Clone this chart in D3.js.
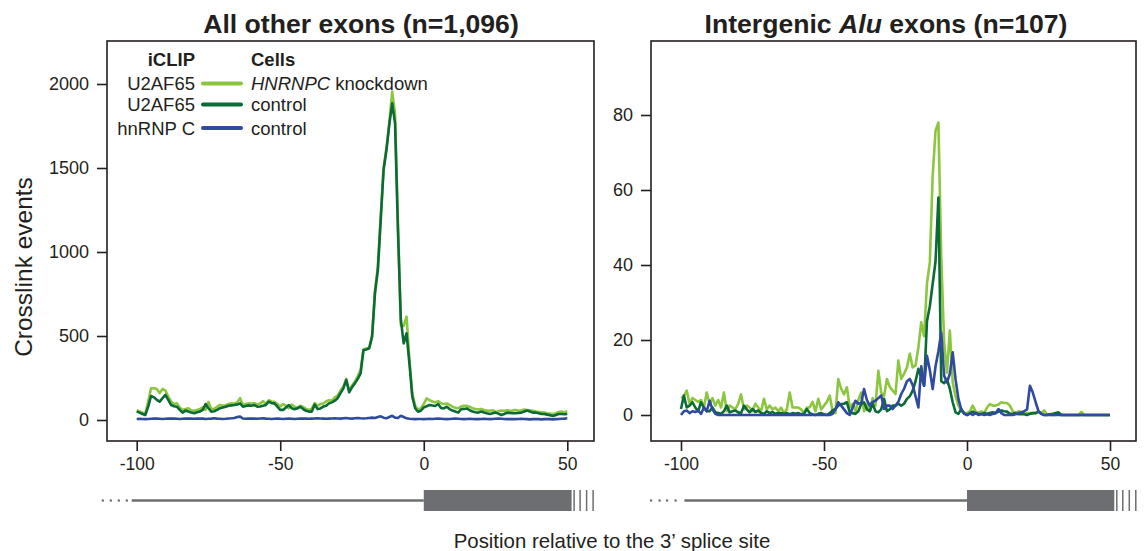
<!DOCTYPE html>
<html><head><meta charset="utf-8">
<script src="https://cdn.jsdelivr.net/npm/d3@7"></script>
<style>
body{margin:0;background:#fff}
svg{display:block}
text{font-family:"Liberation Sans",Arial,Helvetica,sans-serif;fill:#231f20}
</style>
</head><body>
<svg id="c" width="1144" height="551"></svg>
<script>
// ---- data ----
const positions = d3.range(-100, 51); // position relative to 3' splice site

const leftXTicks = [-100, -50, 0, 50];
const leftYTicks = [0, 500, 1000, 1500, 2000];
const rightXTicks = [-100, -50, 0, 50];
const rightYTicks = [0, 20, 40, 60, 80];

// All other exons: U2AF65 iCLIP, HNRNPC knockdown
const leftU2AF65KD = [
 58,50,44,38,110,189,189,185,160,185,
 175,140,110,95,100,75,60,66,70,58,
 55,60,65,75,60,108,65,66,78,90,
 85,88,95,100,98,105,130,90,95,100,
 98,100,92,98,112,95,118,110,108,95,
 80,95,85,70,92,80,70,85,78,65,
 60,68,100,85,95,98,112,118,115,135,
 145,175,200,245,175,205,230,260,300,420,
 425,430,505,770,910,1210,1500,1620,1770,1955,
 1820,1180,565,560,615,360,160,85,62,70,
 95,129,118,110,105,112,100,95,98,90,
 80,72,70,80,85,85,78,70,66,62,
 66,60,56,55,58,50,52,56,55,58,
 55,56,60,55,58,62,60,58,55,50,
 48,46,44,40,38,36,40,48,50,46,52];
// All other exons: U2AF65 iCLIP, control
const leftU2AF65Ctrl = [
 50,44,36,30,80,143,135,120,109,130,
 149,120,89,82,79,60,44,56,50,44,
 40,46,50,60,95,70,50,52,60,70,
 75,79,85,87,89,92,99,79,83,87,
 85,89,79,80,85,90,109,100,99,80,
 60,60,75,89,70,64,70,79,65,55,
 50,50,92,65,69,80,85,99,105,115,
 130,160,188,238,165,195,218,245,278,417,
 420,427,496,754,893,1190,1488,1607,1760,1885,
 1766,1131,600,456,516,337,139,70,49,55,
 75,82,89,86,83,95,72,69,79,65,
 56,50,44,64,66,69,58,50,46,44,
 50,45,40,36,40,44,38,30,36,44,
 42,40,40,42,44,50,56,50,44,44,
 40,36,36,32,28,24,30,36,36,34,36];
// All other exons: hnRNP C iCLIP, control
const leftHNRNPCCtrl = [
 6,7,6,5,6,7,8,8,7,6,
 7,8,9,8,7,6,7,8,9,8,
 7,8,9,8,6,7,8,10,8,7,
 6,7,9,10,12,18,20,9,7,8,
 9,8,7,9,10,8,7,6,7,8,
 7,6,7,8,7,6,7,8,9,8,
 7,8,9,10,9,8,7,8,9,10,
 9,8,10,12,9,8,10,12,10,9,
 10,12,14,12,18,22,14,10,18,25,
 14,12,25,18,10,7,6,5,6,6,
 5,6,7,6,7,8,7,6,5,6,
 7,8,7,6,5,6,7,6,5,5,
 6,7,6,5,6,7,8,7,6,5,
 5,6,5,6,7,6,5,4,5,6,
 5,4,5,6,5,4,5,6,7,8,10];

// Intergenic Alu exons: U2AF65 iCLIP, HNRNPC knockdown
const rightU2AF65KD = [
 4.5,5,6.5,3,4.5,4,3.5,4,2,6,
 3,4.5,2.5,4,2,6,1,2.5,2,1.5,
 3,5.5,1.5,2.5,2,1,3,2,1,4.3,
 1.5,2.5,1.5,2,1,2,0.5,1.5,6,2,
 2,2,1.5,0.5,2,2,3.5,1,4.3,1.5,
 2.5,3.5,5.2,1,0.5,9.6,7,5.5,7.4,2,
 3,1,4,6,1,3,1,4.5,2.5,11.8,
 6,5.1,9.6,7.5,6.5,5.6,14.5,9.6,11,12.7,
 16.3,12.7,13.2,18,24.7,21,35,40.7,63.8,75.8,
 78,42,19.4,11.3,22.5,8.7,5,2.5,1,0.5,
 0.5,1,2.5,1,0.5,1,0.5,2,2.9,2.5,
 2.5,2.8,3.4,3.2,3.2,2.5,1,0.5,1,0.8,
 0.5,0.5,0.5,0.5,0.5,1,0.5,1.2,0.2,0,
 0,0,0.3,0,0,0,0,0,0,0,
 0.8,0,0,0,0,0,0,0,0,0,0];
// Intergenic Alu exons: U2AF65 iCLIP, control
const rightU2AF65Ctrl = [
 1.6,5.2,2,2.5,3.4,2,1,3.4,2,1,
 1,2,0.7,0.5,0.3,1,2.5,0.7,1,1.2,
 0.7,0.5,2.5,1.5,0.7,1.6,0.8,1.2,0.5,0.3,
 1,0.5,0.8,0.3,0.5,0.5,0.3,0.5,0.2,0.5,
 0.3,0.5,0.2,0.3,1.6,0.5,0.2,0,0.3,0.5,
 0.2,0,0.5,1.2,1.6,2.5,2.9,3,3.4,0.7,
 0.5,0.3,1,2.9,3.4,1.5,1,3,1,0.7,
 1.5,4.3,1,1.5,2.5,2.5,3,2.5,3,4.3,
 5,6.5,9,12.3,10,7.8,25,29,35,41,
 58,9,8.5,9.5,7,3.4,0.7,0.3,1.6,0.5,
 0,0.3,0.9,0.5,0.3,0.2,0.5,0.3,0.5,0.7,
 0.5,0.9,1.2,1,0.9,0.3,0.3,0.5,0.2,0.2,
 0.2,0,0.3,0.5,0.5,0.9,0.3,0,0,0.2,
 0.3,0.5,0.7,0,0,0,0,0,0,0,
 0,0,0,0,0,0,0,0,0,0,0];
// Intergenic Alu exons: hnRNP C iCLIP, control
const rightHNRNPCCtrl = [
 0,1,1.2,0.5,1,0.8,1.2,0.3,2,1,
 3.8,1.5,0.3,0,0,0,0,0,0,0,
 0,0,0,0,0,0,0,0,0,0,
 0,0,0,0,0,0,0,0,0,0,
 0,0,0,0,0,0,0,0,0,0,
 0,0,0,0.3,1.5,3.4,2.5,1.5,0.5,0,
 2,3.8,3,3.2,6.9,4,2.5,3.5,3.8,4.5,
 5.2,1.6,2.5,2.5,1.6,2.5,3.5,5.6,7,9,
 9.6,8,5,2,13,7.8,15.8,12,6.9,13,
 17,22,10.5,8.7,11,16.7,9.5,4.3,1.5,0.3,
 0,0.5,0,0.5,0,0.3,0,0.2,0,0.3,
 0.5,1.6,0.5,0,0,0,0,0.2,0.5,0.7,
 1,1.5,7.8,6,3.4,1,0.3,0,0,0,
 0,0,0,0,0,0,0,0,0,0,
 0,0,0,0,0,0,0,0,0,0,0];

const legendICLIP = ["U2AF65", "U2AF65", "hnRNP C"];
const legendCells = ["knockdown", "control", "control"];

// ---- styles ----
const colKD = "#8cc63f", colCtrl = "#0b6a36", colHn = "#2f4a9e", gray = "#6d6e71", ink = "#231f20";
const fmt = d => String(d); // plain hyphen-minus like the original

const svg = d3.select("#c");

const panels = [
  {box:{l:107,t:41,r:594,b:441}, xr:[136.7,567.3], yd:[0,2000], yr:[420,84],
   xt:leftXTicks, yt:leftYTicks,
   series:[[leftU2AF65KD,colKD],[leftU2AF65Ctrl,colCtrl],[leftHNRNPCCtrl,colHn]],
   dots:[-35,-27,-19,-11], lineStart:-5},
  {box:{l:651,t:41,r:1136,b:441}, xr:[681,1110], yd:[0,80], yr:[415,115],
   xt:rightXTicks, yt:rightYTicks,
   series:[[rightU2AF65KD,colKD],[rightU2AF65Ctrl,colCtrl],[rightHNRNPCCtrl,colHn]],
   dots:[-31,-22.5,-15,-6.5], lineStart:3.4}
];

panels.forEach((p,pi)=>{
  const x = d3.scaleLinear().domain([-100,50]).range(p.xr);
  const y = d3.scaleLinear().domain(p.yd).range(p.yr);
  const g = svg.append("g");

  const line = d3.line().x((d,i)=>x(positions[i])).y(d=>y(d));
  p.series.forEach(([vals,col])=>{
    g.append("path").attr("d", line(vals)).attr("fill","none")
      .attr("stroke",col).attr("stroke-width",2.6).attr("stroke-linejoin","round");
  });

  g.append("rect").attr("x",p.box.l).attr("y",p.box.t)
    .attr("width",p.box.r-p.box.l).attr("height",p.box.b-p.box.t)
    .attr("fill","none").attr("stroke",ink).attr("stroke-width",1.6);

  const ya = g.append("g").attr("transform",`translate(${p.box.l},0)`)
    .call(d3.axisLeft(y).tickValues(p.yt).tickSize(10).tickPadding(8).tickFormat(fmt));
  ya.select(".domain").remove();
  ya.selectAll("line").attr("stroke",ink).attr("stroke-width",1.6);
  ya.selectAll("text").style("font-size","18px").attr("fill",ink);

  const xa = g.append("g").attr("transform",`translate(0,${p.box.b})`)
    .call(d3.axisBottom(x).tickValues(p.xt).tickSize(10).tickPadding(7).tickFormat(fmt));
  xa.select(".domain").remove();
  xa.selectAll("line").attr("stroke",ink).attr("stroke-width",1.6);
  xa.selectAll("text").style("font-size","17.5px").attr("fill",ink);

  // gene diagram
  const gy = 500.5, x0 = x(0), xs = x(-100), xe = x(51.5);
  const gg = svg.append("g");
  p.dots.forEach(dx=>{
    gg.append("rect").attr("x",xs+dx).attr("y",gy-1.1).attr("width",2.2).attr("height",2.2).attr("fill",gray);
  });
  gg.append("line").attr("x1",xs+p.lineStart).attr("x2",x0).attr("y1",gy).attr("y2",gy)
    .attr("stroke",gray).attr("stroke-width",2.6);
  gg.append("rect").attr("x",x0).attr("y",490).attr("width",xe-x0).attr("height",21).attr("fill",gray);
  [2.5,8.5,15,21.5].forEach(dx=>{
    gg.append("line").attr("x1",xe+dx).attr("x2",xe+dx).attr("y1",490).attr("y2",511)
      .attr("stroke",gray).attr("stroke-width",1.5);
  });
});

// titles
svg.append("text").attr("x",361).attr("y",33).attr("text-anchor","middle")
  .style("font-size","26.6px").style("font-weight","bold").text("All other exons (n=1,096)");
const t2 = svg.append("text").attr("x",886).attr("y",33).attr("text-anchor","middle")
  .style("font-size","26.6px").style("font-weight","bold");
t2.append("tspan").text("Intergenic ");
t2.append("tspan").style("font-style","italic").text("Alu");
t2.append("tspan").text(" exons (n=107)");

// axis titles
svg.append("text").attr("transform","translate(32,267) rotate(-90)").attr("text-anchor","middle")
  .style("font-size","24.5px").text("Crosslink events");
svg.append("text").attr("x",612).attr("y",548).attr("text-anchor","middle")
  .style("font-size","20.4px").text("Position relative to the 3\u2019 splice site");

// legend
const lg = svg.append("g");
const lfs = "18.5px";
lg.append("text").attr("x",195).attr("y",66).attr("text-anchor","end").style("font-size",lfs).style("font-weight","bold").text("iCLIP");
lg.append("text").attr("x",251).attr("y",66).style("font-size",lfs).style("font-weight","bold").text("Cells");
const rowsY = [83.5,104.5,128];
const rowCols = [colKD, colCtrl, colHn];
legendICLIP.forEach((lab,i)=>{
  const yy = rowsY[i];
  lg.append("text").attr("x",195).attr("y",yy+6.5).attr("text-anchor","end").style("font-size",lfs).text(lab);
  lg.append("line").attr("x1",203).attr("x2",241).attr("y1",yy).attr("y2",yy)
    .attr("stroke",rowCols[i]).attr("stroke-width",4).attr("stroke-linecap","round");
  const tt = lg.append("text").attr("x",251).attr("y",yy+6.5).style("font-size",lfs);
  if(i===0){
    tt.append("tspan").style("font-style","italic").text("HNRNPC");
    tt.append("tspan").text(" " + legendCells[i]);
  } else tt.text(legendCells[i]);
});
</script>
</body></html>
